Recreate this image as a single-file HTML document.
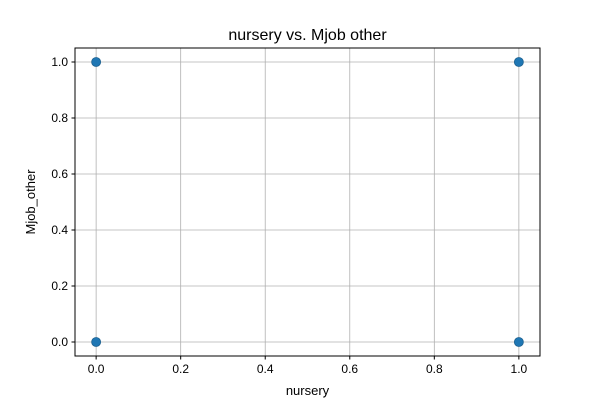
<!DOCTYPE html>
<html><head><meta charset="utf-8"><style>body{margin:0;background:#fff}svg{font-family:"Liberation Sans","DejaVu Sans",sans-serif}</style></head>
<body>
<svg id="chart" width="600" height="400" xmlns="http://www.w3.org/2000/svg">
<rect width="600" height="400" fill="#fff"/>
<g id="grid"></g>
<g id="ticks"></g>
<g id="points"></g>
<rect x="75" y="48" width="465" height="308" fill="none" stroke="#000" stroke-width="1"/>
<text x="307.5" y="40" text-anchor="middle" font-size="16">nursery vs. Mjob other</text>
<text x="307.5" y="395" text-anchor="middle" font-size="13">nursery</text>
<text transform="translate(35,202) rotate(-90)" text-anchor="middle" font-size="13">Mjob_other</text>
</svg>
<script>
const xVals=[0,0,1,1];
const yVals=[0,1,0,1];
const xTicks=[0,0.2,0.4,0.6,0.8,1.0];
const yTicks=[0,0.2,0.4,0.6,0.8,1.0];
const tickLabels=["0.0","0.2","0.4","0.6","0.8","1.0"];
const NS="http://www.w3.org/2000/svg";
const L=75,R=540,T=48,B=356,xmin=-0.05,xmax=1.05,ymin=-0.05,ymax=1.05;
const sx=v=>L+(v-xmin)/(xmax-xmin)*(R-L);
const sy=v=>B-(v-ymin)/(ymax-ymin)*(B-T);
function mk(tag,attrs,parent){const e=document.createElementNS(NS,tag);for(const k in attrs)e.setAttribute(k,attrs[k]);document.getElementById(parent).appendChild(e);return e;}
xTicks.forEach((t,i)=>{const x=sx(t);
const g=mk('line',{x1:x,x2:x,y1:T,y2:B,stroke:'#b0b0b0','stroke-width':0.8},'grid');


mk('line',{x1:x,x2:x,y1:B,y2:B+3.5,stroke:'#000'},'ticks');
const l=mk('text',{x:x,y:B+17,'text-anchor':'middle','font-size':12},'ticks');l.textContent=tickLabels[i];

});
yTicks.forEach((t,i)=>{const y=sy(t);
const g=mk('line',{x1:L,x2:R,y1:y,y2:y,stroke:'#b0b0b0','stroke-width':0.8},'grid');


mk('line',{x1:L-3.5,x2:L,y1:y,y2:y,stroke:'#000'},'ticks');
const l=mk('text',{x:L-7,y:y+4,'text-anchor':'end','font-size':12},'ticks');l.textContent=tickLabels[i];

});
xVals.forEach((v,i)=>{const c=mk('circle',{cx:sx(v),cy:sy(yVals[i]),r:4.5,fill:'#1f77b4',stroke:'#1a5f8f','stroke-width':0.8},'points');

});
</script>
</body></html>
